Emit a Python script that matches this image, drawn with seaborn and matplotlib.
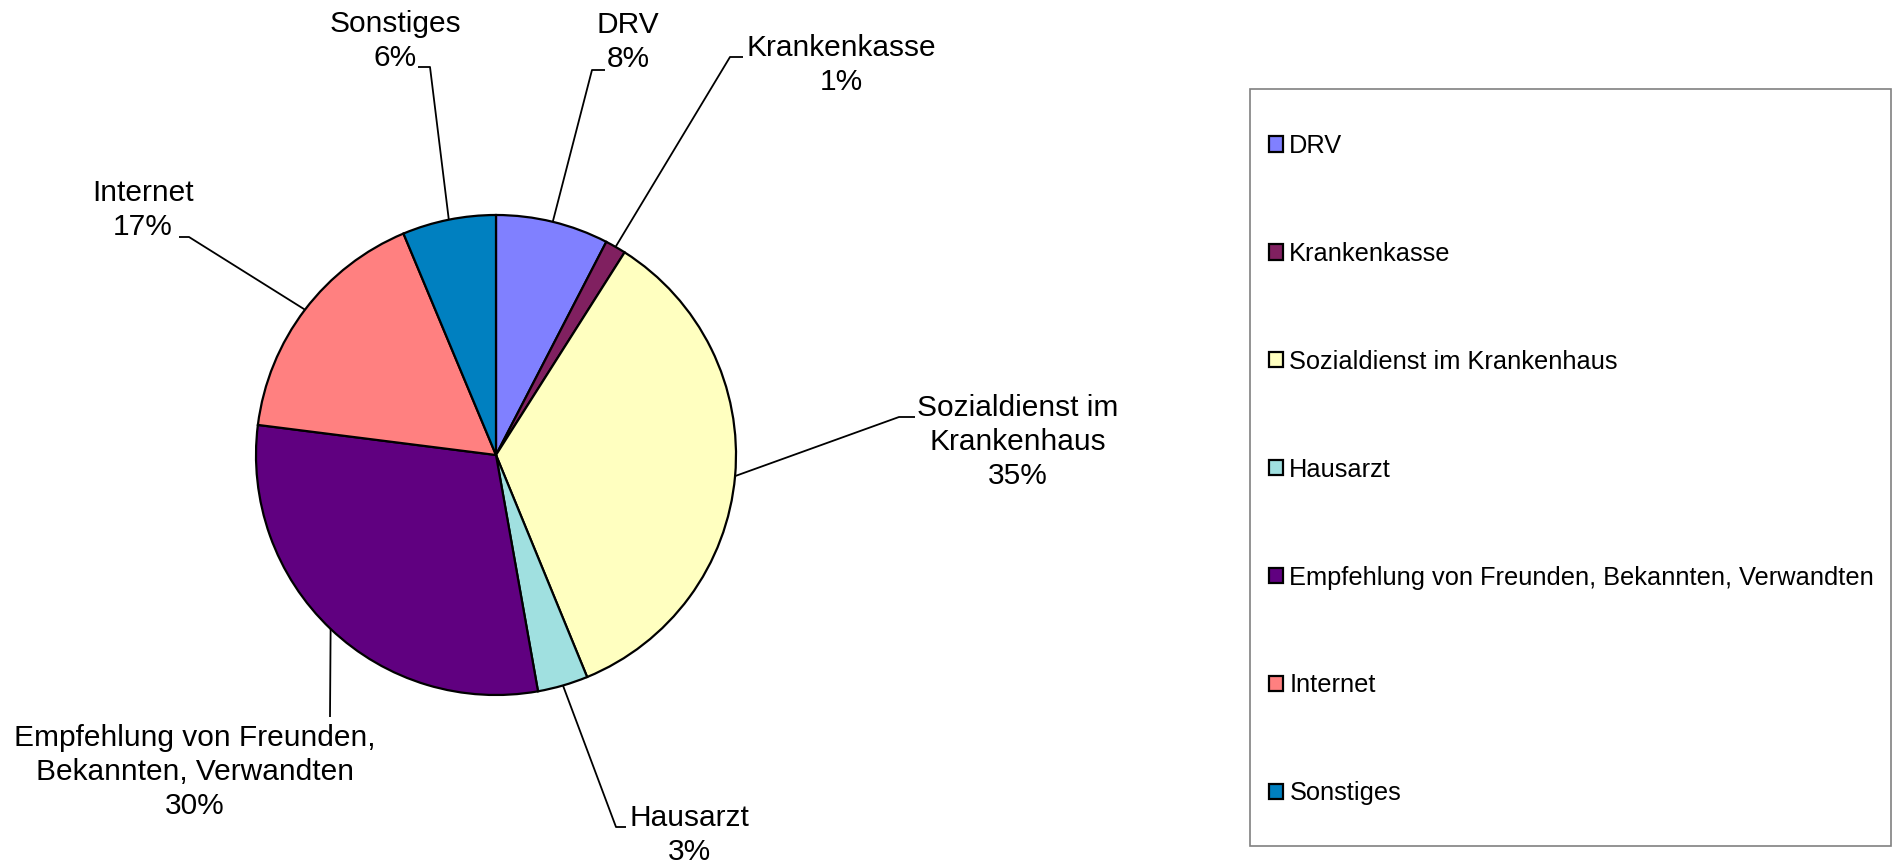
import matplotlib
matplotlib.use("Agg")
import matplotlib.pyplot as plt
import seaborn as sns
import numpy as np
from matplotlib.patches import Rectangle

# ---- data ----
categories = ["DRV", "Krankenkasse", "Sozialdienst im Krankenhaus", "Hausarzt",
              "Empfehlung von Freunden, Bekannten, Verwandten", "Internet", "Sonstiges"]
pie_labels = ["DRV", "Krankenkasse", "Sozialdienst im\nKrankenhaus", "Hausarzt",
              "Empfehlung von Freunden,\nBekannten, Verwandten", "Internet", "Sonstiges"]
values = [7.6, 1.4, 34.8, 3.4, 29.8, 16.7, 6.3]
colors = ["#8080FF", "#802060", "#FFFFC0", "#A0E0E0", "#600080", "#FF8080", "#0080C0"]

sns.set_theme(style="white")
plt.rcParams["font.family"] = ["Liberation Sans", "DejaVu Sans"]
plt.rcParams["text.color"] = "black"

W, H = 1896, 865
fig = plt.figure(figsize=(W / 100, H / 100), dpi=100)
ax = fig.add_axes([0, 0, 1, 1])

def Y(py):
    return H - py

cx, cy, R = 496, Y(455), 240
wedges, _ = ax.pie(values, colors=colors, startangle=90, counterclock=False,
                   center=(cx, cy), radius=R,
                   wedgeprops=dict(edgecolor="black", linewidth=1.6))
ax.set_xlim(0, W)
ax.set_ylim(0, H)
ax.set_aspect("equal")
ax.axis("off")

# layout for labels: (text center x, text center y, elbow x, elbow y, end x)
layout = [
    (628, 42, 592, 70, 605),
    (841, 65, 730, 57, 743),
    (1018, 442, 899, 417, 915),
    (689, 835, 616, 827, 626),
    (195, 772, 330, 717, 330),
    (143, 210, 189, 237, 179),
    (395, 41, 430, 67, 418),
]

for w, lab, v, (tx, ty, ex, ey, hx) in zip(wedges, pie_labels, values, layout):
    mid = np.deg2rad((w.theta1 + w.theta2) / 2)
    axx = cx + R * np.cos(mid)
    ayy = cy + R * np.sin(mid)
    ax.plot([axx, ex, hx], [ayy, Y(ey), Y(ey)], color="black", lw=1.3,
            solid_capstyle="butt")
    ax.text(tx, Y(ty), f"{lab}\n{round(v)}%", ha="center", va="center",
            fontsize=21.5, linespacing=1.28, color="black")

# legend frame
fig.patches.append(Rectangle((1250 / W, 1 - 846 / H), (1891 - 1250) / W, (846 - 89) / H,
                             transform=fig.transFigure, fill=False,
                             edgecolor="#808080", linewidth=1.2))
leg = ax.legend(wedges, categories, loc="upper left",
                bbox_to_anchor=(1269 / W, 1 - 134 / H), bbox_transform=fig.transFigure,
                frameon=False, fontsize=18.3, handlelength=0.55, handleheight=0.55,
                handletextpad=0.25, labelspacing=3.30, borderpad=0, borderaxespad=0)
for t in leg.get_texts():
    t.set_color("black")
for hnd in leg.legend_handles:
    hnd.set_linewidth(1.6)

fig.savefig("out.png", dpi=100)
